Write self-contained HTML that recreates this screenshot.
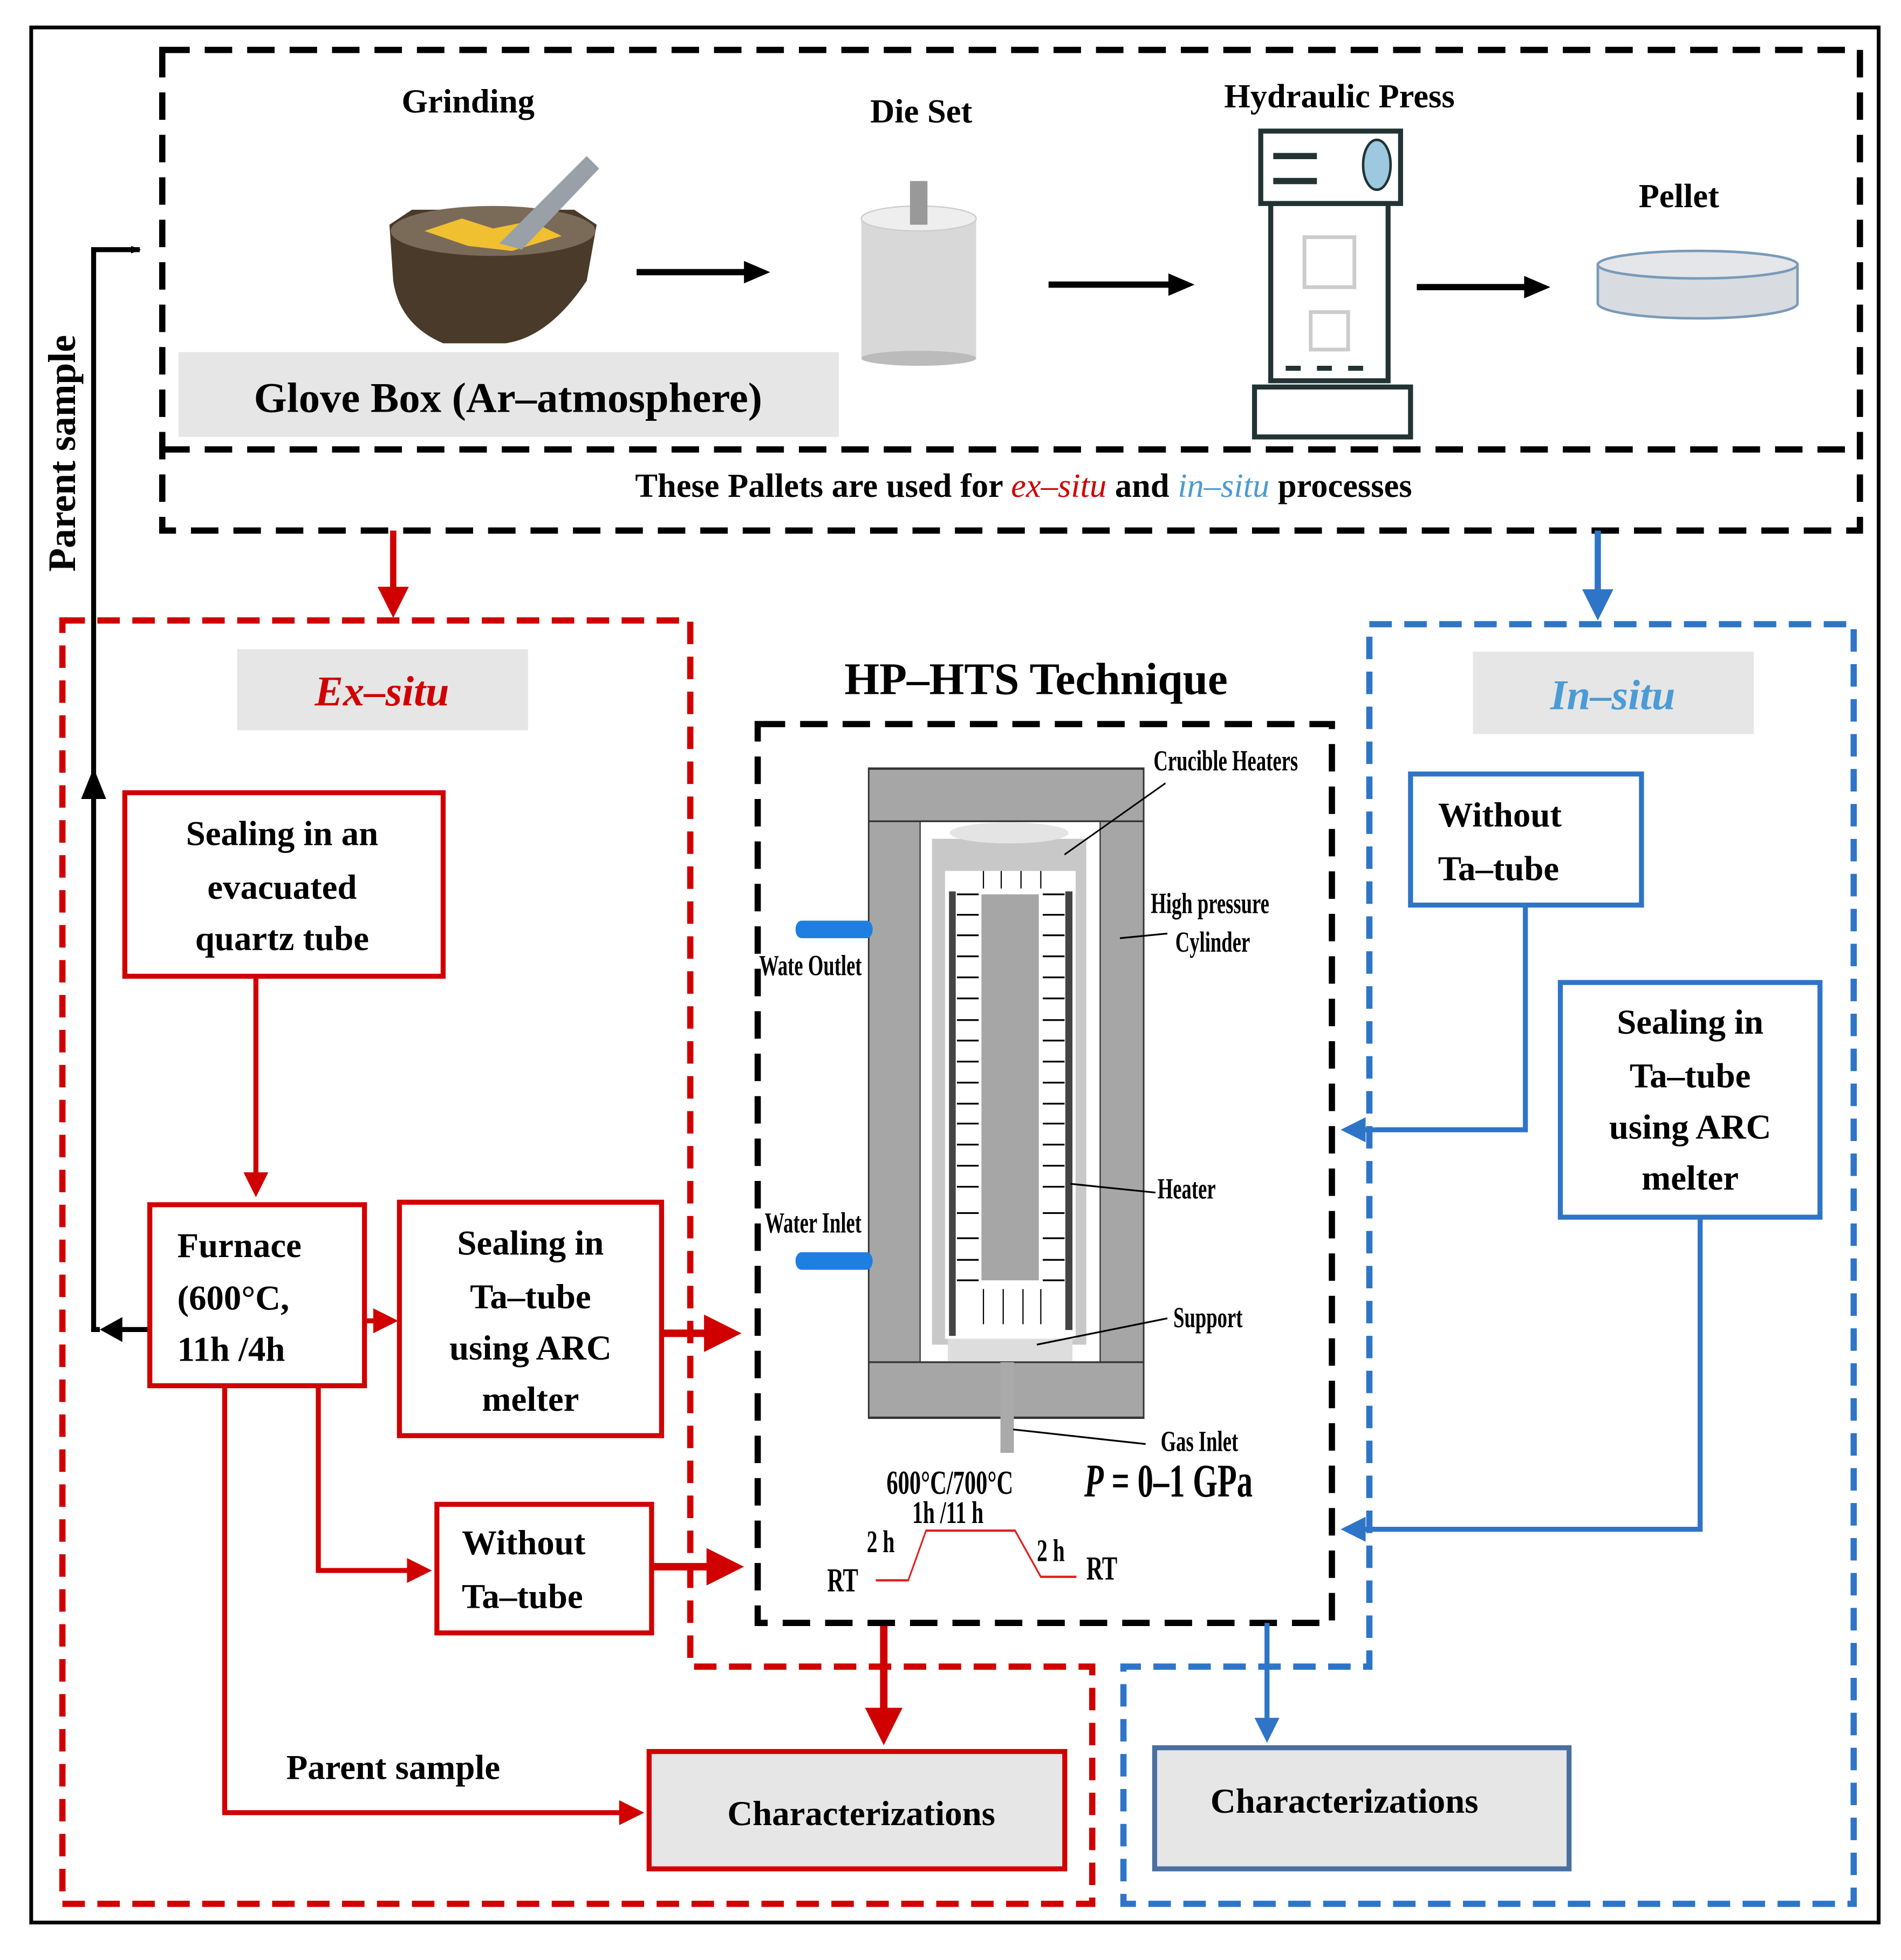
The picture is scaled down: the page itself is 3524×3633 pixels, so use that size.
<!DOCTYPE html>
<html><head><meta charset="utf-8"><style>
html,body{margin:0;padding:0;background:#fff}
svg{display:block}
text{font-family:"Liberation Serif",serif;font-weight:bold}
</style></head><body>
<svg width="3524" height="3633" viewBox="0 0 3524 3633" xmlns="http://www.w3.org/2000/svg">
<defs>
<marker id="ar" markerWidth="5" markerHeight="5" refX="4" refY="2.5" orient="auto" markerUnits="strokeWidth"><path d="M0,0L5,2.5L0,5z" fill="#d00000"/></marker>
<marker id="ab" markerWidth="5" markerHeight="5" refX="4" refY="2.5" orient="auto" markerUnits="strokeWidth"><path d="M0,0L5,2.5L0,5z" fill="#2e75c8"/></marker>
<marker id="as" markerWidth="8" markerHeight="8" refX="7" refY="4" orient="auto" markerUnits="userSpaceOnUse"><path d="M0,1L8,4L0,7z" fill="#000"/></marker>
</defs>
<g transform="scale(2.314)">
<rect x="25" y="22" width="1480" height="1518" fill="none" stroke="#000" stroke-width="3"/>
<g fill="none" stroke="#000" stroke-width="5" stroke-dasharray="22,12">
<path d="M130,40H1490V425H130Z"/>
<path d="M130,360H1490"/>
</g>
<rect x="143" y="282" width="529" height="68" fill="#e6e6e6"/>
<text x="407" y="330" font-size="34" text-anchor="middle">Glove Box (Ar–atmosphere)</text>
<text x="375" y="90" font-size="27" text-anchor="middle">Grinding</text>
<text x="738" y="98" font-size="27" text-anchor="middle">Die Set</text>
<text x="1073" y="86" font-size="27" text-anchor="middle">Hydraulic  Press</text>
<text x="1345" y="166" font-size="27" text-anchor="middle">Pellet</text>
<text x="820" y="398" font-size="27" text-anchor="middle">These Pallets are used for <tspan fill="#d00000" font-style="italic" font-weight="normal">ex–situ</tspan> and <tspan fill="#4a9bd6" font-style="italic" font-weight="normal">in–situ</tspan> processes</text>
<path d="M312,180L330,168H460L478,180L470,225Q440,270 405,275H355Q320,260 315,225Z" fill="#4a3a2a"/>
<ellipse cx="395" cy="185" rx="82" ry="20" fill="#7a6a58"/>
<path d="M340,185l30,-10l25,8l30,-6l25,12l-40,12l-35,-4z" fill="#f0c030"/>
<path d="M400,195L470,125L480,135L418,200Z" fill="#9aa0a8"/>
<rect x="690" y="175" width="92" height="112" fill="#d8d8d8"/>
<ellipse cx="736" cy="287" rx="46" ry="6" fill="#bbb"/>
<ellipse cx="736" cy="175" rx="46" ry="10" fill="#eee" stroke="#ccc"/>
<rect x="729" y="145" width="14" height="35" fill="#999"/>
<g stroke="#000" stroke-width="5">
<line x1="510" y1="218" x2="598" y2="218"/>
<line x1="840" y1="228" x2="938" y2="228"/>
<line x1="1135" y1="230" x2="1223" y2="230"/>
</g>
<g fill="#000">
<path d="M596,209L617,218L596,227Z"/>
<path d="M936,219L957,228L936,237Z"/>
<path d="M1221,221L1242,230L1221,239Z"/>
</g>
<g fill="none" stroke="#233" stroke-width="4">
<rect x="1010" y="105" width="112" height="58"/>
<rect x="1018" y="163" width="94" height="142"/>
<rect x="1005" y="310" width="125" height="40"/>
</g>
<path d="M1020,125h35M1020,145h35" stroke="#233" stroke-width="5"/>
<ellipse cx="1103" cy="132" rx="11" ry="20" fill="#9cc8e0" stroke="#233" stroke-width="2"/>
<rect x="1045" y="190" width="40" height="40" fill="none" stroke="#ccc" stroke-width="3"/>
<rect x="1050" y="250" width="30" height="30" fill="none" stroke="#ccc" stroke-width="3"/>
<path d="M1030,295h12M1055,295h12M1080,295h12" stroke="#233" stroke-width="4"/>
<path d="M1280,212V243A80,12 0 0 0 1440,243V212Z" fill="#d8dbe0" stroke="#7a9ab8" stroke-width="2"/>
<ellipse cx="1360" cy="212" rx="80" ry="11" fill="#e4e6ea" stroke="#7a9ab8" stroke-width="2"/>
<text transform="translate(60,458) rotate(-90)" font-size="31">Parent  sample</text>
<path d="M80,1065H75V200H112" fill="none" stroke="#000" stroke-width="4" marker-end="url(#as)"/>
<path d="M65,640L75,615L85,640Z" fill="#000"/>
<path d="M118,1065H88" stroke="#000" stroke-width="4"/>
<path d="M98,1055L80,1065L98,1075Z" fill="#000"/>
<line x1="315" y1="425" x2="315" y2="490" stroke="#d00000" stroke-width="5" marker-end="url(#ar)"/>
<line x1="1280" y1="425" x2="1280" y2="492" stroke="#2e75c8" stroke-width="5" marker-end="url(#ab)"/>
<path d="M50,497H553V1335H875V1525H50Z" fill="none" stroke="#d00000" stroke-width="5" stroke-dasharray="18,10"/>
<path d="M1097,500H1485V1525H900V1335H1097Z" fill="none" stroke="#2e75c8" stroke-width="5" stroke-dasharray="18,10"/>
<rect x="190" y="520" width="233" height="65" fill="#e6e6e6"/>
<text x="306" y="565" font-size="34" fill="#d00000" font-style="italic" font-weight="normal" text-anchor="middle">Ex–situ</text>
<rect x="1180" y="522" width="225" height="66" fill="#e6e6e6"/>
<text x="1292" y="568" font-size="34" fill="#4a9bd6" font-style="italic" font-weight="normal" text-anchor="middle">In–situ</text>
<g fill="#fff" stroke="#d00000" stroke-width="4">
<rect x="100" y="635" width="255" height="147"/>
<rect x="120" y="965" width="172" height="145"/>
<rect x="320" y="963" width="210" height="187"/>
<rect x="350" y="1205" width="172" height="103"/>
<rect x="520" y="1403" width="333" height="94" fill="#e6e6e6"/>
</g>
<g font-size="28" text-anchor="middle">
<text x="226" y="677">Sealing in an</text>
<text x="226" y="720">evacuated</text>
<text x="226" y="761">quartz   tube</text>
<text x="142" y="1007" text-anchor="start">Furnace</text>
<text x="142" y="1049" text-anchor="start">(600°C,</text>
<text x="142" y="1090" text-anchor="start">11h /4h</text>
<text x="425" y="1005">Sealing in</text>
<text x="425" y="1048">Ta–tube</text>
<text x="425" y="1089">using ARC</text>
<text x="425" y="1130">melter</text>
<text x="370" y="1245" text-anchor="start">Without</text>
<text x="370" y="1288" text-anchor="start">Ta–tube</text>
<text x="690" y="1462">Characterizations</text>
<text x="315" y="1425">Parent  sample</text>
</g>
<g fill="none" stroke="#d00000" stroke-width="4">
<path d="M205,782V955" marker-end="url(#ar)"/>
<path d="M292,1058H315" marker-end="url(#ar)"/>
<path d="M255,1110V1258H342" marker-end="url(#ar)"/>
<path d="M180,1110V1452H512" marker-end="url(#ar)"/>
</g>
<g fill="none" stroke="#d00000" stroke-width="6">
<path d="M530,1068H588" marker-end="url(#ar)"/>
<path d="M522,1255H590" marker-end="url(#ar)"/>
<path d="M708,1300V1392" marker-end="url(#ar)"/>
</g>
<rect x="607" y="580" width="460" height="720" fill="none" stroke="#000" stroke-width="5" stroke-dasharray="22,12"/>
<text x="830" y="556" font-size="36" text-anchor="middle">HP–HTS Technique</text>
<g fill="#fff" stroke="#2e75c8" stroke-width="4">
<rect x="1130" y="620" width="185" height="105"/>
<rect x="1250" y="787" width="208" height="188"/>
<rect x="925" y="1400" width="332" height="97" fill="#e6e6e6" stroke="#4a70a0"/>
</g>
<g font-size="28" text-anchor="middle">
<text x="1152" y="662" text-anchor="start">Without</text>
<text x="1152" y="705" text-anchor="start">Ta–tube</text>
<text x="1354" y="828">Sealing in</text>
<text x="1354" y="871">Ta–tube</text>
<text x="1354" y="912">using ARC</text>
<text x="1354" y="953">melter</text>
<text x="1077" y="1452">Characterizations</text>
</g>
<g fill="none" stroke="#2e75c8" stroke-width="4">
<path d="M1222,725V905H1078" marker-end="url(#ab)"/>
<path d="M1362,975V1225H1078" marker-end="url(#ab)"/>
<path d="M1015,1300V1392" marker-end="url(#ab)"/>
</g>
</g>
<g transform="translate(1350,1300) scale(0.7334,1.084)">
<rect x="355" y="115" width="695" height="1110" fill="#a6a6a6" stroke="#333" stroke-width="4"/>
<rect x="485" y="205" width="455" height="925" fill="#fff" stroke="#333" stroke-width="3"/>
<path d="M355,205H485M940,205H1050M355,1130H485M940,1130H1050" stroke="#333" stroke-width="3"/>
<rect x="515" y="235" width="390" height="865" fill="#c8c8c8"/>
<rect x="548" y="290" width="330" height="800" fill="#fff"/>
<ellipse cx="710" cy="225" rx="150" ry="18" fill="#e4e4e4"/>
<rect x="558" y="325" width="17" height="760" fill="#444"/>
<rect x="852" y="325" width="18" height="750" fill="#444"/>
<rect x="640" y="330" width="145" height="660" fill="#a6a6a6"/>
<rect x="555" y="1090" width="315" height="38" fill="#ddd"/>
<rect x="688" y="1130" width="34" height="155" fill="#aaa"/>
<g stroke="#000" stroke-width="3">
<path d="M578,330h55M578,365h55M578,400h55M578,436h55M578,472h55M578,508h55M578,545h55M578,580h55M578,616h55M578,652h55M578,688h55M578,722h55M578,758h55M578,794h55M578,830h55M578,875h55M578,918h55M578,955h55M578,990h55"/>
<path d="M850,330h-55M850,365h-55M850,400h-55M850,436h-55M850,472h-55M850,508h-55M850,545h-55M850,580h-55M850,616h-55M850,652h-55M850,688h-55M850,722h-55M850,758h-55M850,794h-55M850,830h-55M850,875h-55M850,918h-55M850,955h-55M850,990h-55"/>
<path d="M645,290v30M690,290v30M740,290v30M790,290v30M645,1065v-60M695,1065v-60M745,1065v-60M790,1065v-60"/>
</g>
<g stroke="#1e7fe0" stroke-width="30" stroke-linecap="round"><path d="M185,390H350M185,957H350"/></g>
<g stroke="#000" stroke-width="3" fill="none">
<path d="M850,262L1105,140"/><path d="M990,405L1110,397"/><path d="M865,825L1080,840"/><path d="M780,1100L1110,1055"/><path d="M720,1245L1055,1270"/>
</g>
<g font-size="50" font-weight="normal">
<text x="1075" y="118">Crucible Heaters</text>
<text x="1068" y="362">High pressure</text>
<text x="1130" y="428">Cylinder</text>
<text x="1085" y="850">Heater</text>
<text x="1125" y="1070">Support</text>
<text x="1093" y="1282">Gas Inlet</text>
<text x="78" y="468">Wate Outlet</text>
<text x="92" y="908">Water Inlet</text>
</g>
<text x="400" y="1355" font-size="58" font-weight="normal">600°C/700°C</text>
<text x="900" y="1360" font-size="80"><tspan font-style="italic">P</tspan> = 0–1 GPa</text>
<text x="465" y="1405" font-size="54">1h /11   h</text>
<text x="350" y="1455" font-size="54">2  h</text>
<text x="780" y="1470" font-size="54">2  h</text>
<text x="250" y="1522" font-size="58">RT</text>
<text x="905" y="1502" font-size="58">RT</text>
<path d="M373,1503H455L500,1418H725L790,1497H880" fill="none" stroke="#e02020" stroke-width="4"/>
</g>
</svg>
</body></html>
